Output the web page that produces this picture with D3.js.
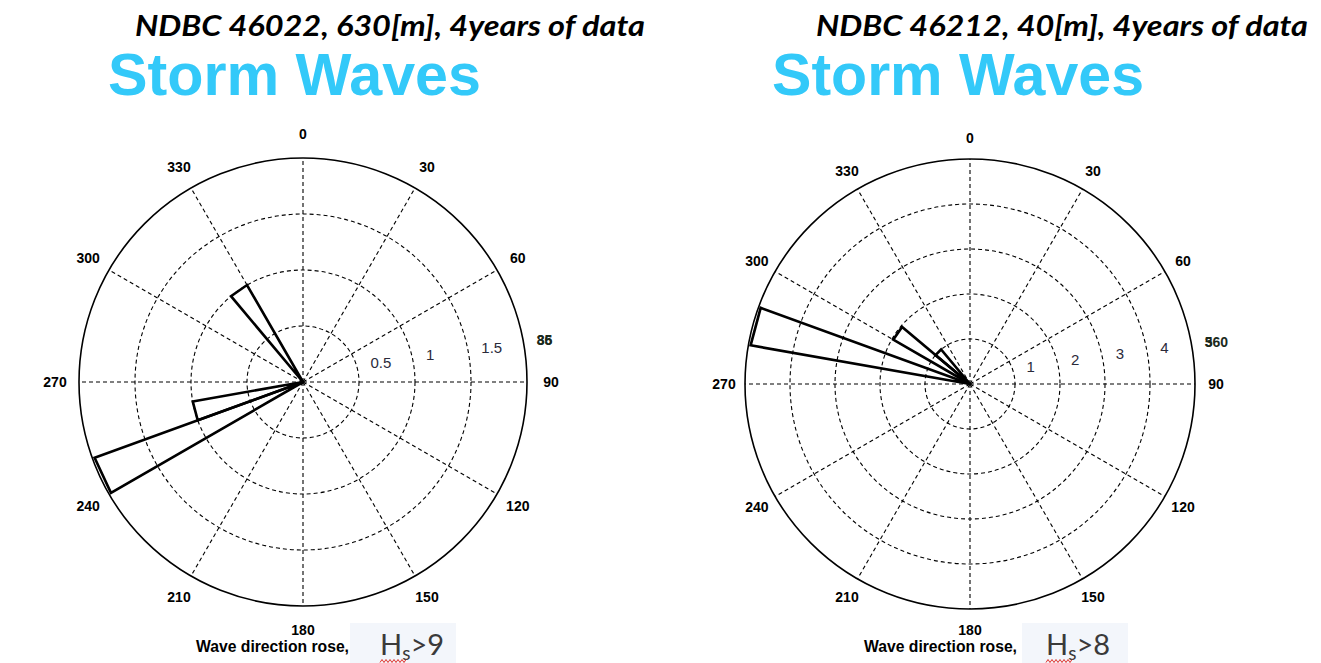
<!DOCTYPE html>
<html>
<head>
<meta charset="utf-8">
<script src="https://cdn.jsdelivr.net/npm/d3@7"></script>
<style>
  html, body { margin: 0; padding: 0; background: #fff; }
  svg { display: block; }
</style>
</head>
<body>
<div id="chart"></div>
<script>
// rose data, bin start angle (deg, clockwise from north) and count
var leftBins = [240, 250, 320];
var leftValues = [1.98, 1.0, 1.0];
var rightBins = [280, 300, 310];
var rightValues = [4.95, 1.97, 1.0];
var binWidth = 10;

var leftRings = [0.5, 1, 1.5, 2];
var rightRings = [1, 2, 3, 4, 5];
var angleTicks = [0, 30, 60, 90, 120, 150, 180, 210, 240, 270, 300, 330];

var titles = ["NDBC 46022, 630[m], 4years of data", "NDBC 46212, 40[m], 4years of data"];
var thresholds = [">9", ">8"];

var W = 1321, H = 663;
var svg = d3.select("#chart").append("svg")
    .attr("width", W)
    .attr("height", H);

svg.append("rect").attr("width", W).attr("height", H).attr("fill", "#fff");

function pt(r, deg) {
    var a = deg * Math.PI / 180;
    return [r * Math.sin(a), -r * Math.cos(a)];
}

function drawRose(opt) {
    var g = svg.append("g").attr("transform", "translate(" + opt.cx + "," + opt.cy + ")");
    var r = d3.scaleLinear().domain([0, opt.max]).range([0, opt.radius]);

    // spokes
    g.selectAll("line.spoke")
        .data(angleTicks)
        .enter().append("line")
        .attr("class", "spoke")
        .attr("x1", 0).attr("y1", 0)
        .attr("x2", function(d) { return pt(opt.radius, d)[0]; })
        .attr("y2", function(d) { return pt(opt.radius, d)[1]; })
        .attr("stroke", "#000")
        .attr("stroke-width", 1.1)
        .attr("stroke-dasharray", "4,3");

    // rings
    g.selectAll("circle.ring")
        .data(opt.rings)
        .enter().append("circle")
        .attr("class", "ring")
        .attr("r", function(d) { return r(d); })
        .attr("fill", "none")
        .attr("stroke", "#000")
        .attr("stroke-width", function(d, i) { return i == opt.rings.length - 1 ? 1.6 : 1.1; })
        .attr("stroke-dasharray", function(d, i) { return i == opt.rings.length - 1 ? null : "4,3"; });

    // ring labels
    g.selectAll("text.rlab")
        .data(opt.rings.slice(0, -1))
        .enter().append("text")
        .attr("x", function(d) { return r(d) * Math.cos(8 * Math.PI / 180) + 12; })
        .attr("y", function(d) { return -r(d) * Math.sin(8 * Math.PI / 180) - 6; })
        .attr("font-family", "Liberation Sans, Arial, sans-serif")
        .attr("font-size", 15)
        .attr("fill", "#2a2a3a")
        .text(function(d) { return d; });

    // outer labels, printed on top of each other as in the source figure
    opt.outerLabels.forEach(function(t) {
        g.append("text")
            .attr("x", r(opt.max) * Math.cos(8 * Math.PI / 180) + 12)
            .attr("y", -r(opt.max) * Math.sin(8 * Math.PI / 180) - 6)
            .attr("font-family", "Liberation Sans, Arial, sans-serif")
            .attr("font-weight", "bold")
            .attr("font-size", 14)
            .attr("fill", "#1c2a1c")
            .text(t);
    });

    // angle labels
    g.selectAll("text.alab")
        .data(angleTicks)
        .enter().append("text")
        .attr("x", function(d) { return pt(opt.labelR, d)[0]; })
        .attr("y", function(d) { return pt(opt.labelR, d)[1]; })
        .attr("dy", "0.35em")
        .attr("text-anchor", "middle")
        .attr("font-family", "Liberation Sans, Arial, sans-serif")
        .attr("font-weight", "bold")
        .attr("font-size", 14)
        .attr("fill", "#000")
        .text(function(d) { return d; });

    // petals
    var petals = opt.bins.map(function(b, i) { return { a: b, v: opt.values[i] }; });
    g.selectAll("path.petal")
        .data(petals)
        .enter().append("path")
        .attr("d", function(d) {
            var p1 = pt(r(d.v), d.a), p2 = pt(r(d.v), d.a + binWidth);
            return "M0,0L" + p1[0] + "," + p1[1] + "L" + p2[0] + "," + p2[1] + "Z";
        })
        .attr("fill", "none")
        .attr("stroke", "#000")
        .attr("stroke-width", 2.6)
        .attr("stroke-linejoin", "miter");
}

function drawHeader(x0, x1, sx0, sx1, title) {
    svg.append("text")
        .attr("x", x0).attr("y", 36)
        .attr("font-family", "Lato, 'Open Sans', sans-serif")
        .attr("font-style", "italic")
        .attr("font-weight", "bold")
        .attr("font-size", 28)
        .attr("textLength", x1 - x0)
        .attr("lengthAdjust", "spacingAndGlyphs")
        .attr("fill", "#000")
        .text(title);
    svg.append("text")
        .attr("x", sx0).attr("y", 95)
        .attr("font-family", "Liberation Sans, Arial, sans-serif")
        .attr("font-weight", "bold")
        .attr("font-size", 60)
        .attr("textLength", sx1 - sx0)
        .attr("lengthAdjust", "spacingAndGlyphs")
        .attr("fill", "#33c9f9")
        .text("Storm Waves");
}

function drawCaption(tx, bx, hx, thr) {
    svg.append("text")
        .attr("x", tx).attr("y", 652)
        .attr("font-family", "Liberation Sans, Arial, sans-serif")
        .attr("font-weight", "bold")
        .attr("font-size", 17)
        .attr("textLength", 153)
        .attr("lengthAdjust", "spacingAndGlyphs")
        .attr("fill", "#000")
        .text("Wave direction rose,");
    svg.append("rect")
        .attr("x", bx).attr("y", 623)
        .attr("width", 106).attr("height", 40)
        .attr("fill", "#f3f6fb");
    var t = svg.append("text")
        .attr("x", hx).attr("y", 655)
        .attr("font-family", "Lato, 'Open Sans', sans-serif")
        .attr("font-size", 29)
        .attr("fill", "#3a3a3a");
    t.append("tspan").text("H");
    t.append("tspan").attr("font-size", 19).attr("dy", 5).text("s");
    t.append("tspan").attr("dy", -5).text(thr);
    // red spelling squiggle under H_s
    var sq = d3.range(0, 14).map(function(i) { return [hx + i * 2, 661 + (i % 2 ? -1.5 : 1.5)]; });
    svg.append("path")
        .attr("d", d3.line()(sq))
        .attr("fill", "none")
        .attr("stroke", "#e0302a")
        .attr("stroke-width", 1);
}

drawHeader(135, 645, 108, 481, titles[0]);
drawHeader(816, 1308, 772, 1144, titles[1]);

drawRose({ cx: 303, cy: 382, radius: 224, max: 2, rings: leftRings, labelR: 248,
           bins: leftBins, values: leftValues, outerLabels: ["35", "86"] });
drawRose({ cx: 970, cy: 384, radius: 225, max: 5, rings: rightRings, labelR: 246,
           bins: rightBins, values: rightValues, outerLabels: ["360", "5"] });

drawCaption(196, 350, 380, thresholds[0]);
drawCaption(864, 1022, 1046, thresholds[1]);
</script>
</body>
</html>
